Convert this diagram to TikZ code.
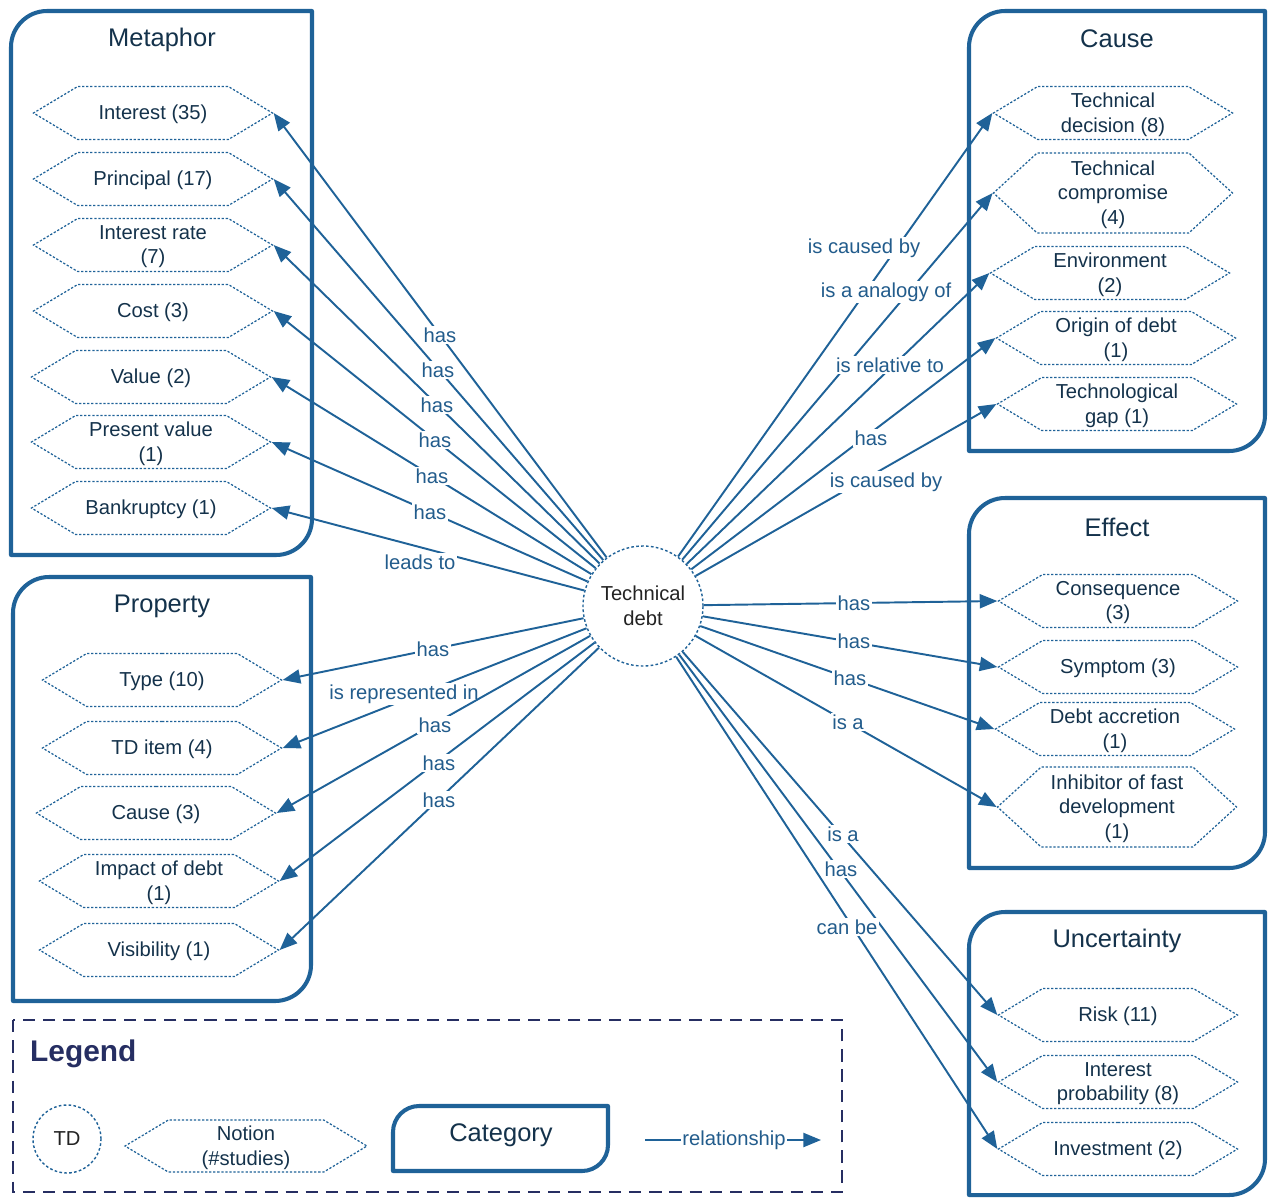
\documentclass[tikz,border=0pt]{standalone}
\usepackage{fontspec}
\setmainfont{Liberation Sans}
\usetikzlibrary{arrows.meta,shapes.symbols}

\definecolor{tdblue}{RGB}{31,98,152}
\definecolor{tdlabel}{RGB}{34,92,140}
\definecolor{tdtext}{RGB}{20,50,75}
\definecolor{tdnavy}{RGB}{38,46,98}
\definecolor{tdgray}{RGB}{35,35,35}

% frame of a category: rounded top-left and bottom-right corners
\newcommand{\catframe}[5]{%
  \draw[catline] (#1,#4) -- (#1,#2+#5) .. controls (#1,#2+0.45*#5) and (#1+0.45*#5,#2) .. (#1+#5,#2)
    -- (#3,#2) -- (#3,#4-#5) .. controls (#3,#4-0.45*#5) and (#3-0.45*#5,#4) .. (#3-#5,#4) -- cycle;}

\begin{document}
\begin{tikzpicture}[x=0.02cm, y=-0.02cm,
    notion/.style={shape=signal, signal to=east and west, signal pointer angle=62, draw=tdblue, line width=0.7pt, dash pattern=on 1.3pt off 1pt, minimum width=4.78cm, minimum height=1.06cm, inner sep=0pt, align=center, font=\fontsize{11.5}{14}\selectfont, text=tdtext, text depth=0.5pt},
    tallnotion/.style={notion, minimum height=1.6cm, signal pointer angle=85},
    catline/.style={draw=tdblue, line width=2.3pt, line join=round},
    cattitle/.style={font=\fontsize{14.5}{17}\selectfont, text=tdtext},
    tdnode/.style={circle, draw=tdblue, line width=0.8pt, dash pattern=on 1.5pt off 1.3pt, minimum size=2.4cm, inner sep=0pt, align=center, font=\fontsize{11.5}{14}\selectfont, text=tdgray, fill=white},
    rel/.style={draw=tdblue, line width=1.1pt, -{Triangle[length=10pt,width=8pt]}},
    rellabel/.style={fill=white, inner sep=1pt, text=tdlabel, font=\fontsize{11.5}{14}\selectfont}
]
\useasboundingbox (0,0) rectangle (1268,1198);

% Category frames
\catframe{11}{11}{312}{555}{36}
\catframe{13}{577}{311}{1001}{36}
\catframe{969}{11}{1265}{451}{36}
\catframe{969}{498}{1265}{868}{36}
\catframe{969}{912}{1265}{1195}{36}

% Category titles
\node[cattitle] (tmeta) at (162,40) {Metaphor};
\node[cattitle] (tprop) at (162,606) {Property};
\node[cattitle] (tcause) at (1117,39) {Cause};
\node[cattitle] (teffect) at (1117,527) {Effect};
\node[cattitle] (tuncert) at (1117,941) {Uncertainty};

% Metaphor notions
\node[notion] (m1) at (153,113) {Interest (35)};
\node[notion] (m2) at (153,179) {Principal (17)};
\node[notion] (m3) at (153,245) {Interest rate\\(7)};
\node[notion] (m4) at (153,311) {Cost (3)};
\node[notion] (m5) at (151,377) {Value (2)};
\node[notion] (m6) at (151,442) {Present value\\(1)};
\node[notion] (m7) at (151,508) {Bankruptcy (1)};

% Property notions
\node[notion] (p1) at (162,680) {Type (10)};
\node[notion] (p2) at (162,748) {TD item (4)};
\node[notion] (p3) at (156,813) {Cause (3)};
\node[notion] (p4) at (159,881) {Impact of debt\\(1)};
\node[notion] (p5) at (159,950) {Visibility (1)};

% Cause notions
\node[notion] (c1) at (1113,113) {Technical\\decision (8)};
\node[tallnotion] (c2) at (1113,193) {Technical\\compromise\\(4)};
\node[notion] (c3) at (1110,273) {Environment\\(2)};
\node[notion] (c4) at (1116,338) {Origin of debt\\(1)};
\node[notion] (c5) at (1117,404) {Technological\\gap (1)};

% Effect notions
\node[notion] (e1) at (1118,601) {Consequence\\(3)};
\node[notion] (e2) at (1118,667) {Symptom (3)};
\node[notion] (e3) at (1115,729) {Debt accretion\\(1)};
\node[tallnotion] (e4) at (1117,807) {Inhibitor of fast\\development\\(1)};

% Uncertainty notions
\node[notion] (u1) at (1118,1015) {Risk (11)};
\node[notion] (u2) at (1118,1082) {Interest\\probability (8)};
\node[notion] (u3) at (1118,1149) {Investment (2)};

% Technical debt
\node[tdnode] (td) at (643,606) {Technical\\debt};

% Relationships to the left
\draw[rel] (td) -- (m1.east) node[rellabel] at (440,335) {has};
\draw[rel] (td) -- (m2.east) node[rellabel] at (438,370) {has};
\draw[rel] (td) -- (m3.east) node[rellabel] at (437,405) {has};
\draw[rel] (td) -- (m4.east) node[rellabel] at (435,440) {has};
\draw[rel] (td) -- (m5.east) node[rellabel] at (432,476) {has};
\draw[rel] (td) -- (m6.east) node[rellabel] at (430,512) {has};
\draw[rel] (td) -- (m7.east) node[rellabel] at (420,562) {leads to};
\draw[rel] (td) -- (p1.east) node[rellabel] at (433,649) {has};
\draw[rel] (td) -- (p2.east) node[rellabel] at (404,694) {is represented in};
\draw[rel] (td) -- (p3.east) node[rellabel] at (435,725) {has};
\draw[rel] (td) -- (p4.east) node[rellabel] at (439,763) {has};
\draw[rel] (td) -- (p5.east) node[rellabel] at (439,800) {has};

% Relationships to the right
\draw[rel] (td) -- (c1.west) node[rellabel] at (864,248) {is caused by};
\draw[rel] (td) -- (c2.west) node[rellabel] at (886,292) {is a analogy of};
\draw[rel] (td) -- (c3.west) node[rellabel] at (890,365) {is relative to};
\draw[rel] (td) -- (c4.west) node[rellabel] at (871,438) {has};
\draw[rel] (td) -- (c5.west) node[rellabel] at (886,482) {is caused by};
\draw[rel] (td) -- (e1.west) node[rellabel] at (854,603) {has};
\draw[rel] (td) -- (e2.west) node[rellabel] at (854,641) {has};
\draw[rel] (td) -- (e3.west) node[rellabel] at (850,678) {has};
\draw[rel] (td) -- (e4.west) node[rellabel] at (848,722) {is a};
\draw[rel] (td) -- (u1.west) node[rellabel] at (843,834) {is a};
\draw[rel] (td) -- (u2.west) node[rellabel] at (841,869) {has};
\draw[rel] (td) -- (u3.west) node[rellabel] at (847,927) {can be};

% Legend
\draw[draw=tdnavy, line width=1.2pt, dash pattern=on 7pt off 4.5pt] (13,1020) rectangle (842,1192);
\node[anchor=west, text=tdnavy, font=\fontsize{17}{20}\selectfont\bfseries] (legend) at (24,1054) {Legend};
\node[tdnode, minimum size=1.36cm] (ltd) at (67,1139) {TD};
\node[notion, minimum width=4.84cm, minimum height=1.04cm] (lnotion) at (246,1146) {Notion\\(\#studies)};
\catframe{393}{1106}{608}{1171}{26}
\node[cattitle] (lcat) at (501,1135) {Category};
\coordinate (lrelA) at (645,1140);
\coordinate (lrelB) at (821,1140);
\draw[rel] (lrelA) -- (lrelB) node[rellabel] at (734,1140) {relationship};

\end{tikzpicture}
\end{document}
